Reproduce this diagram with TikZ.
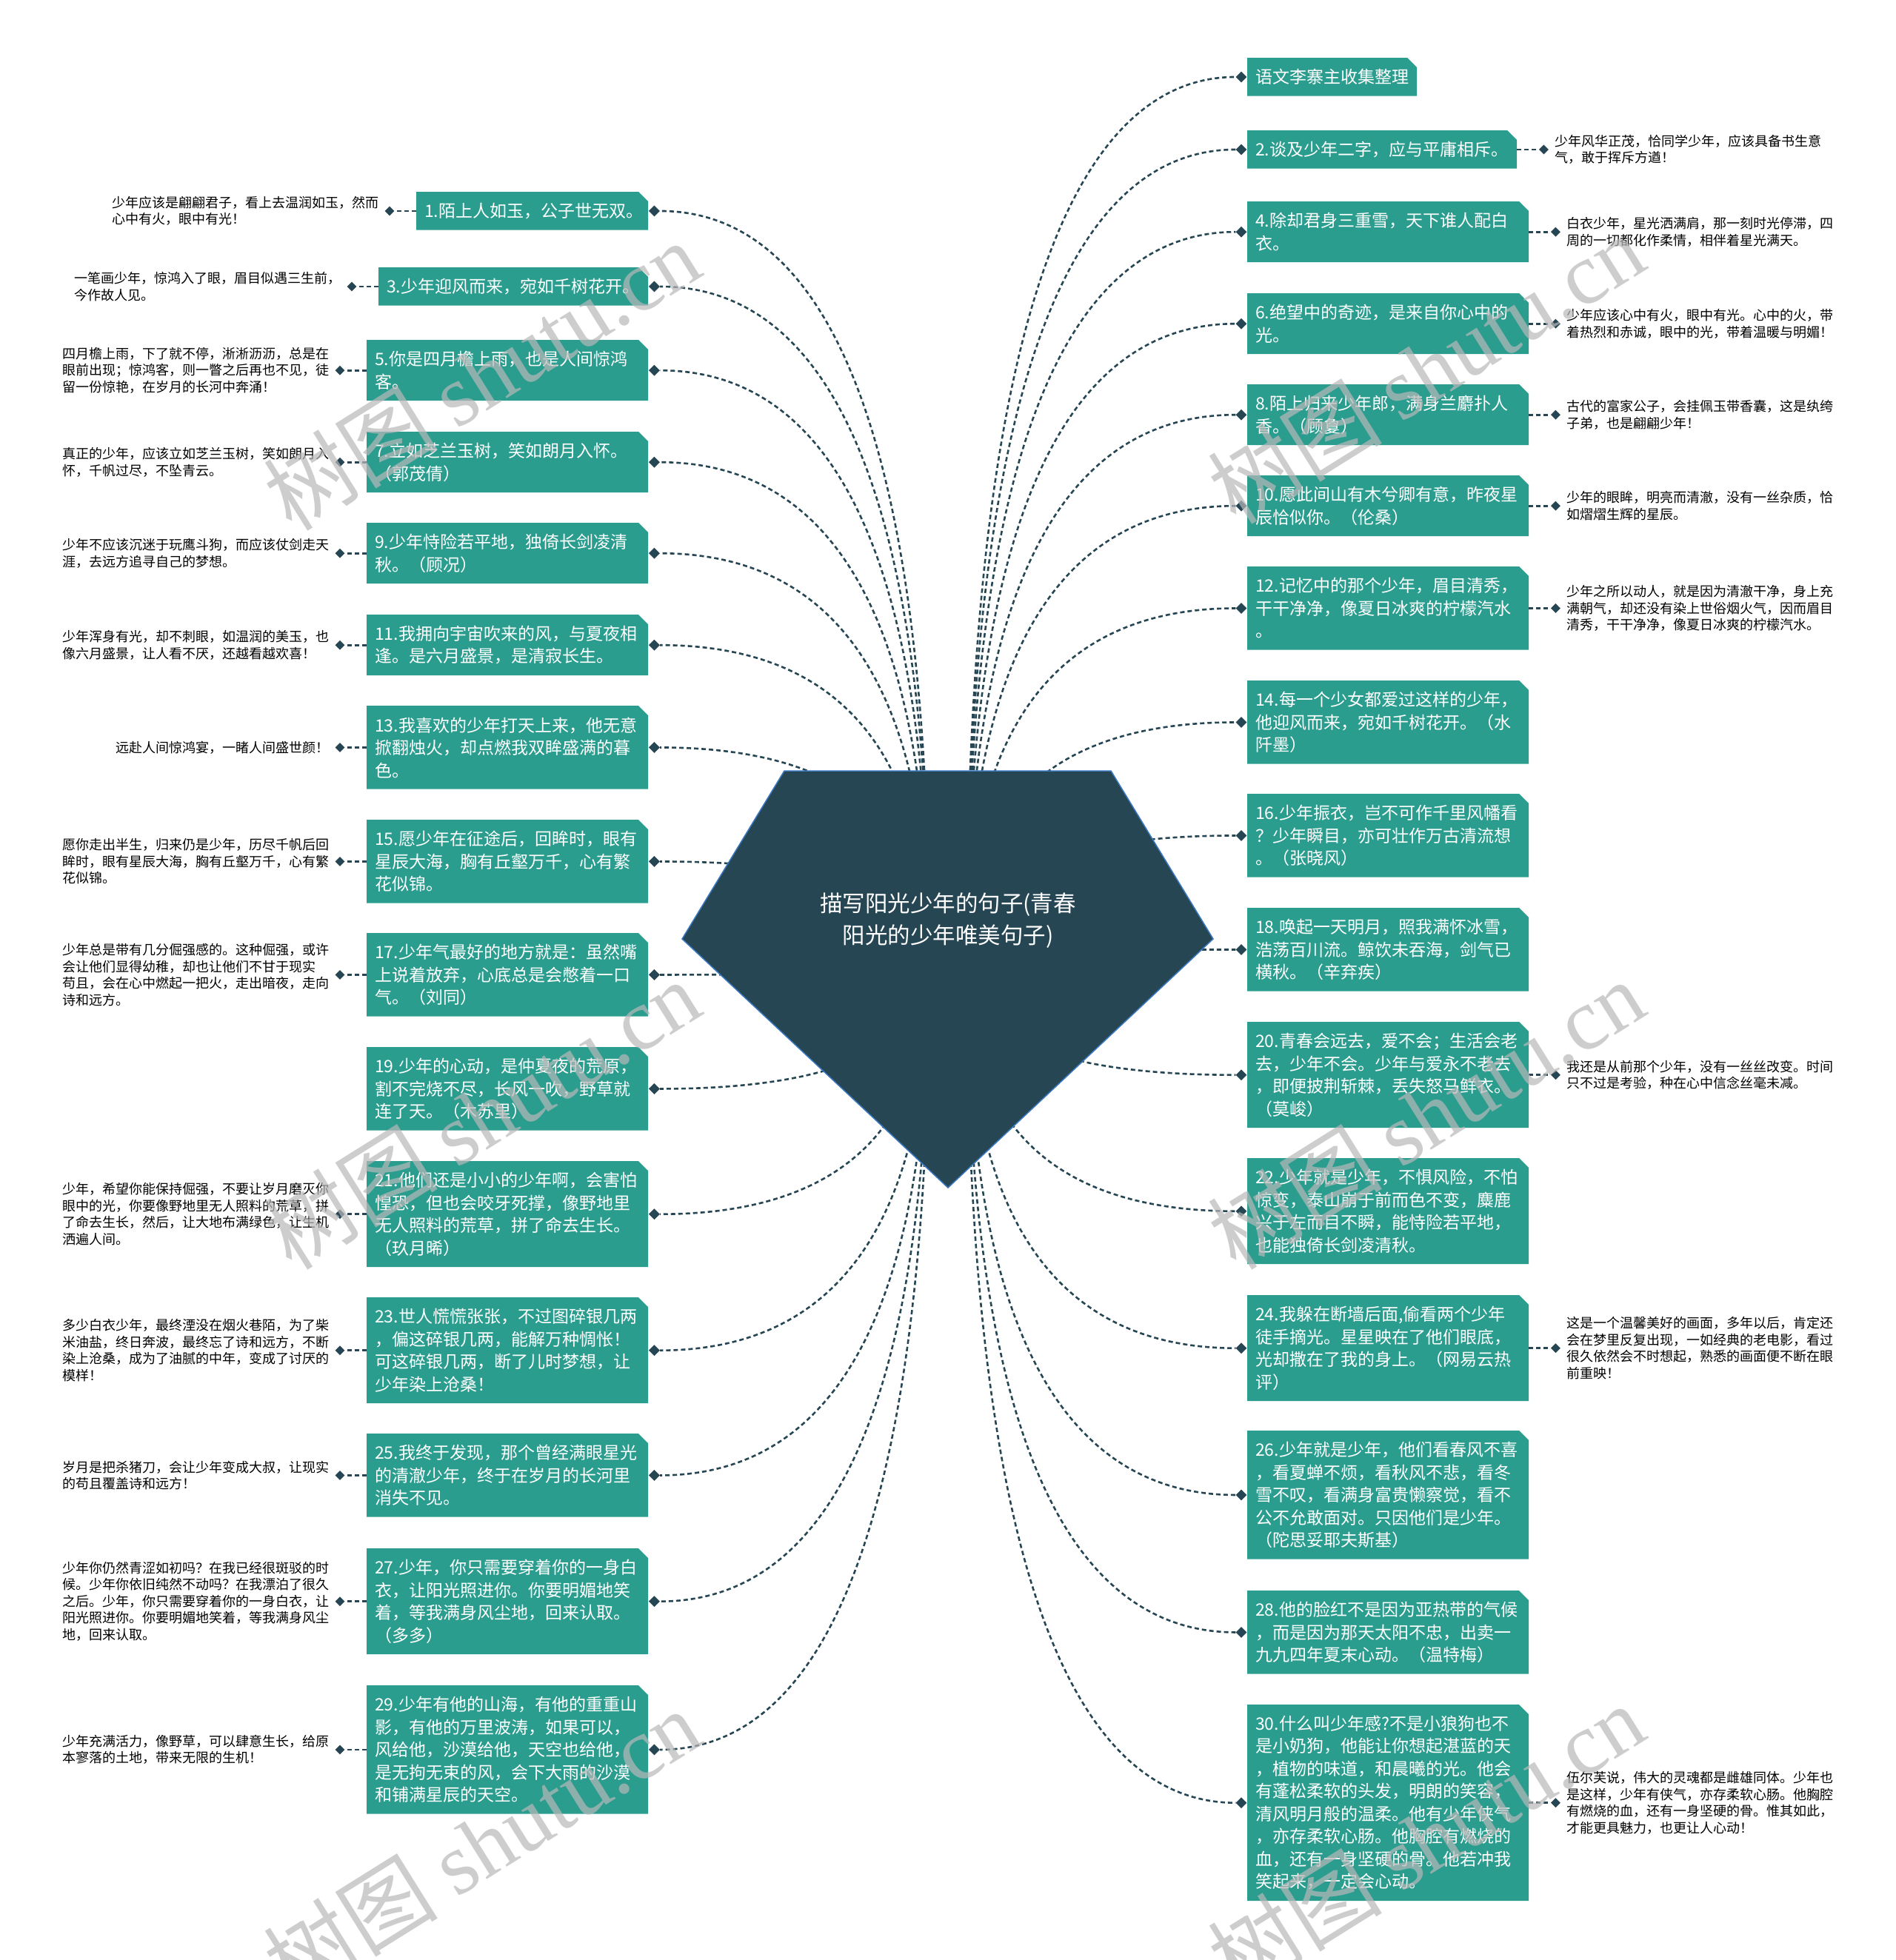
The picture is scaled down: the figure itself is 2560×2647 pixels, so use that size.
\documentclass[tikz,border=0pt]{standalone}
\usepackage{fontspec}
\setmainfont{Noto Sans CJK SC}
\newfontfamily\wmfont{Liberation Serif}
\usetikzlibrary{calc,shapes.geometric}
\definecolor{teal1}{HTML}{2A9D8F}
\definecolor{dark1}{HTML}{264653}
\definecolor{pedge}{HTML}{3A78C0}
\definecolor{wm}{RGB}{185,185,185}
\tikzset{
  btxt/.style={anchor=north west, inner xsep=11bp, inner ysep=0pt, align=left, text=white, font=\fontsize{23bp}{30.5bp}\selectfont},
  ntxt/.style={inner sep=0pt, align=left, text=black, font=\fontsize{18bp}{22.5bp}\selectfont},
  dmd/.style={diamond, fill=dark1, inner sep=0pt, minimum width=15bp, minimum height=15bp},
  ldmd/.style={diamond, fill=dark1, inner sep=0pt, minimum width=13bp, minimum height=13bp},
  conn/.style={draw=dark1, line width=2.6bp, dash pattern=on 6bp off 4bp},
  wmark/.style={rotate=32, text=wm, opacity=0.7, font=\fontsize{118bp}{118bp}\selectfont},
}
\newcommand\tbx[6]{%
  \pgfmathsetmacro\bh{30.5*#5+21}%
  \pgfmathsetmacro\tw{#4-22}%
  \fill[teal1] (#2,#3) -- ({#2+#4-13},#3) -- ({#2+#4},{#3+13}) -- ({#2+#4},{#3+\bh}) -- (#2,{#3+\bh}) -- cycle;
  \node[btxt, text width=\tw bp, minimum height=\bh bp] (#1) at (#2,#3) {#6};
}
\newcommand\cc[2]{\draw[conn] (#1) .. controls ($(#1)!0.667!(#1 |- #2)$) and ($(#2)!0.667!(#1 |- #2)$) .. (#2);}
\newcommand\Lconn[1]{\node[dmd] (d#1) at ([xshift=8bp]#1.east) {};\cc{cL}{d#1}}
\newcommand\Rconn[1]{\node[dmd] (d#1) at ([xshift=-8bp]#1.west) {};\cc{cR}{d#1}}
\newcommand\Lleaf[2]{\node[ldmd] (e#1) at ([xshift=-36bp]#1.west) {};
  \node[ntxt,anchor=east] (n#1) at ([xshift=-14bp]e#1.center) {#2};
  \draw[conn] (#1.west) -- (e#1);}
\newcommand\Rleaf[2]{\node[ldmd] (e#1) at ([xshift=36bp]#1.east) {};
  \node[ntxt,anchor=west] (n#1) at ([xshift=15bp]e#1.center) {#2};
  \draw[conn] (#1.east) -- (e#1);}
\begin{document}
\begin{tikzpicture}[x=1bp,y=-1bp]
\fill[white] (0,0) rectangle (2560,2647);
\useasboundingbox (0,0) rectangle (2560,2647);
\coordinate (cL) at (1255,1300);
\coordinate (cR) at (1305,1300);

% ---------- left boxes ----------
\tbx{b1}{562}{259}{313}{1}{1.陌上人如玉，公子世无双。}
\tbx{b3}{511}{361}{364}{1}{3.少年迎风而来，宛如千树花开。}
\tbx{b5}{495}{459}{380}{2}{5.你是四月檐上雨，也是人间惊鸿\\客。}
\tbx{b7}{495}{583}{380}{2}{7.立如芝兰玉树，笑如朗月入怀。\\（郭茂倩）}
\tbx{b9}{495}{706}{380}{2}{9.少年恃险若平地，独倚长剑凌清\\秋。（顾况）}
\tbx{b11}{495}{830}{380}{2}{11.我拥向宇宙吹来的风，与夏夜相\\逢。是六月盛景，是清寂长生。}
\tbx{b13}{495}{953}{380}{3}{13.我喜欢的少年打天上来，他无意\\掀翻烛火，却点燃我双眸盛满的暮\\色。}
\tbx{b15}{495}{1107}{380}{3}{15.愿少年在征途后，回眸时，眼有\\星辰大海，胸有丘壑万千，心有繁\\花似锦。}
\tbx{b17}{495}{1260}{380}{3}{17.少年气最好的地方就是：虽然嘴\\上说着放弃，心底总是会憋着一口\\气。（刘同）}
\tbx{b19}{495}{1414}{380}{3}{19.少年的心动，是仲夏夜的荒原，\\割不完烧不尽，长风一吹，野草就\\连了天。（木苏里）}
\tbx{b21}{495}{1568}{380}{4}{21.他们还是小小的少年啊，会害怕\\惶恐，但也会咬牙死撑，像野地里\\无人照料的荒草，拼了命去生长。\\（玖月晞）}
\tbx{b23}{495}{1752}{380}{4}{23.世人慌慌张张，不过图碎银几两\\，偏这碎银几两，能解万种惆怅！\\可这碎银几两，断了儿时梦想，让\\少年染上沧桑！}
\tbx{b25}{495}{1936}{380}{3}{25.我终于发现，那个曾经满眼星光\\的清澈少年，终于在岁月的长河里\\消失不见。}
\tbx{b27}{495}{2091}{380}{4}{27.少年，你只需要穿着你的一身白\\衣，让阳光照进你。你要明媚地笑\\着，等我满身风尘地，回来认取。\\（多多）}
\tbx{b29}{495}{2276}{380}{5}{29.少年有他的山海，有他的重重山\\影，有他的万里波涛，如果可以，\\风给他，沙漠给他，天空也给他，\\是无拘无束的风，会下大雨的沙漠\\和铺满星辰的天空。}

% ---------- right boxes ----------
\tbx{r0}{1684}{78}{229}{1}{语文李寨主收集整理}
\tbx{r2}{1684}{176}{364}{1}{2.谈及少年二字，应与平庸相斥。}
\tbx{r4}{1684}{272}{380}{2}{4.除却君身三重雪，天下谁人配白\\衣。}
\tbx{r6}{1684}{396}{380}{2}{6.绝望中的奇迹，是来自你心中的\\光。}
\tbx{r8}{1684}{519}{380}{2}{8.陌上归来少年郎，满身兰麝扑人\\香。（顾敻）}
\tbx{r10}{1684}{642}{380}{2}{10.愿此间山有木兮卿有意，昨夜星\\辰恰似你。（伦桑）}
\tbx{r12}{1684}{765}{380}{3}{12.记忆中的那个少年，眉目清秀，\\干干净净，像夏日冰爽的柠檬汽水\\。}
\tbx{r14}{1684}{919}{380}{3}{14.每一个少女都爱过这样的少年，\\他迎风而来，宛如千树花开。（水\\阡墨）}
\tbx{r16}{1684}{1072}{380}{3}{16.少年振衣，岂不可作千里风幡看\\？少年瞬目，亦可壮作万古清流想\\。（张晓风）}
\tbx{r18}{1684}{1226}{380}{3}{18.唤起一天明月，照我满怀冰雪，\\浩荡百川流。鲸饮未吞海，剑气已\\横秋。（辛弃疾）}
\tbx{r20}{1684}{1380}{380}{4}{20.青春会远去，爱不会；生活会老\\去，少年不会。少年与爱永不老去\\，即便披荆斩棘，丢失怒马鲜衣。\\（莫峻）}
\tbx{r22}{1684}{1564}{380}{4}{22.少年就是少年，不惧风险，不怕\\惊变，泰山崩于前而色不变，麋鹿\\兴于左而目不瞬，能恃险若平地，\\也能独倚长剑凌清秋。}
\tbx{r24}{1684}{1749}{380}{4}{24.我躲在断墙后面,偷看两个少年\\徒手摘光。星星映在了他们眼底，\\光却撒在了我的身上。（网易云热\\评）}
\tbx{r26}{1684}{1932}{380}{5}{26.少年就是少年，他们看春风不喜\\，看夏蝉不烦，看秋风不悲，看冬\\雪不叹，看满身富贵懒察觉，看不\\公不允敢面对。只因他们是少年。\\（陀思妥耶夫斯基）}
\tbx{r28}{1684}{2148}{380}{3}{28.他的脸红不是因为亚热带的气候\\，而是因为那天太阳不忠，出卖一\\九九四年夏末心动。（温特梅）}
\tbx{r30}{1684}{2302}{380}{8}{30.什么叫少年感?不是小狼狗也不\\是小奶狗，他能让你想起湛蓝的天\\，植物的味道，和晨曦的光。他会\\有蓬松柔软的头发，明朗的笑容，\\清风明月般的温柔。他有少年侠气\\，亦存柔软心肠。他胸腔有燃烧的\\血，还有一身坚硬的骨。他若冲我\\笑起来，一定会心动。}

% ---------- left leaves ----------
\Lleaf{b1}{少年应该是翩翩君子，看上去温润如玉，然而\\心中有火，眼中有光！}
\Lleaf{b3}{一笔画少年，惊鸿入了眼，眉目似遇三生前，\\今作故人见。}
\Lleaf{b5}{四月檐上雨，下了就不停，淅淅沥沥，总是在\\眼前出现；惊鸿客，则一瞥之后再也不见，徒\\留一份惊艳，在岁月的长河中奔涌！}
\Lleaf{b7}{真正的少年，应该立如芝兰玉树，笑如朗月入\\怀，千帆过尽，不坠青云。}
\Lleaf{b9}{少年不应该沉迷于玩鹰斗狗，而应该仗剑走天\\涯，去远方追寻自己的梦想。}
\Lleaf{b11}{少年浑身有光，却不刺眼，如温润的美玉，也\\像六月盛景，让人看不厌，还越看越欢喜！}
\Lleaf{b13}{远赴人间惊鸿宴，一睹人间盛世颜！}
\Lleaf{b15}{愿你走出半生，归来仍是少年，历尽千帆后回\\眸时，眼有星辰大海，胸有丘壑万千，心有繁\\花似锦。}
\Lleaf{b17}{少年总是带有几分倔强感的。这种倔强，或许\\会让他们显得幼稚，却也让他们不甘于现实\\苟且，会在心中燃起一把火，走出暗夜，走向\\诗和远方。}
\Lleaf{b21}{少年，希望你能保持倔强，不要让岁月磨灭你\\眼中的光，你要像野地里无人照料的荒草，拼\\了命去生长，然后，让大地布满绿色，让生机\\洒遍人间。}
\Lleaf{b23}{多少白衣少年，最终湮没在烟火巷陌，为了柴\\米油盐，终日奔波，最终忘了诗和远方，不断\\染上沧桑，成为了油腻的中年，变成了讨厌的\\模样！}
\Lleaf{b25}{岁月是把杀猪刀，会让少年变成大叔，让现实\\的苟且覆盖诗和远方！}
\Lleaf{b27}{少年你仍然青涩如初吗？在我已经很斑驳的时\\候。少年你依旧纯然不动吗？在我漂泊了很久\\之后。少年，你只需要穿着你的一身白衣，让\\阳光照进你。你要明媚地笑着，等我满身风尘\\地，回来认取。}
\Lleaf{b29}{少年充满活力，像野草，可以肆意生长，给原\\本寥落的土地，带来无限的生机！}

% ---------- right leaves ----------
\Rleaf{r2}{少年风华正茂，恰同学少年，应该具备书生意\\气，敢于挥斥方遒！}
\Rleaf{r4}{白衣少年，星光洒满肩，那一刻时光停滞，四\\周的一切都化作柔情，相伴着星光满天。}
\Rleaf{r6}{少年应该心中有火，眼中有光。心中的火，带\\着热烈和赤诚，眼中的光，带着温暖与明媚！}
\Rleaf{r8}{古代的富家公子，会挂佩玉带香囊，这是纨绔\\子弟，也是翩翩少年！}
\Rleaf{r10}{少年的眼眸，明亮而清澈，没有一丝杂质，恰\\如熠熠生辉的星辰。}
\Rleaf{r12}{少年之所以动人，就是因为清澈干净，身上充\\满朝气，却还没有染上世俗烟火气，因而眉目\\清秀，干干净净，像夏日冰爽的柠檬汽水。}
\Rleaf{r20}{我还是从前那个少年，没有一丝丝改变。时间\\只不过是考验，种在心中信念丝毫未减。}
\Rleaf{r24}{这是一个温馨美好的画面，多年以后，肯定还\\会在梦里反复出现，一如经典的老电影，看过\\很久依然会不时想起，熟悉的画面便不断在眼\\前重映！}
\Rleaf{r30}{伍尔芙说，伟大的灵魂都是雌雄同体。少年也\\是这样，少年有侠气，亦存柔软心肠。他胸腔\\有燃烧的血，还有一身坚硬的骨。惟其如此，\\才能更具魅力，也更让人心动！}

% ---------- central connectors ----------
\Lconn{b1}\Lconn{b3}\Lconn{b5}\Lconn{b7}\Lconn{b9}\Lconn{b11}\Lconn{b13}\Lconn{b15}
\Lconn{b17}\Lconn{b19}\Lconn{b21}\Lconn{b23}\Lconn{b25}\Lconn{b27}\Lconn{b29}
\Rconn{r0}\Rconn{r2}\Rconn{r4}\Rconn{r6}\Rconn{r8}\Rconn{r10}\Rconn{r12}\Rconn{r14}
\Rconn{r16}\Rconn{r18}\Rconn{r20}\Rconn{r22}\Rconn{r24}\Rconn{r26}\Rconn{r28}\Rconn{r30}

% ---------- central pentagon ----------
\filldraw[fill=dark1, draw=pedge, line width=1.5bp] (1059,1041) -- (1500,1041) -- (1638,1268) -- (1280,1604) -- (921,1268) -- cycle;
\node[text=white, align=center, inner sep=0pt, font=\fontsize{30.5bp}{43bp}\selectfont] (root) at (1280,1243) {描写阳光少年的句子(青春\\阳光的少年唯美句子)};

% ---------- watermarks ----------
\node[wmark] (w1) at (650,507) {树图 {\wmfont shutu.cn}};
\node[wmark] (w2) at (1925,498) {树图 {\wmfont shutu.cn}};
\node[wmark] (w3) at (650,1505) {树图 {\wmfont shutu.cn}};
\node[wmark] (w4) at (1925,1505) {树图 {\wmfont shutu.cn}};
\node[wmark] (w5) at (650,2490) {树图 {\wmfont shutu.cn}};
\node[wmark] (w6) at (1925,2483) {树图 {\wmfont shutu.cn}};
\end{tikzpicture}
\end{document}
